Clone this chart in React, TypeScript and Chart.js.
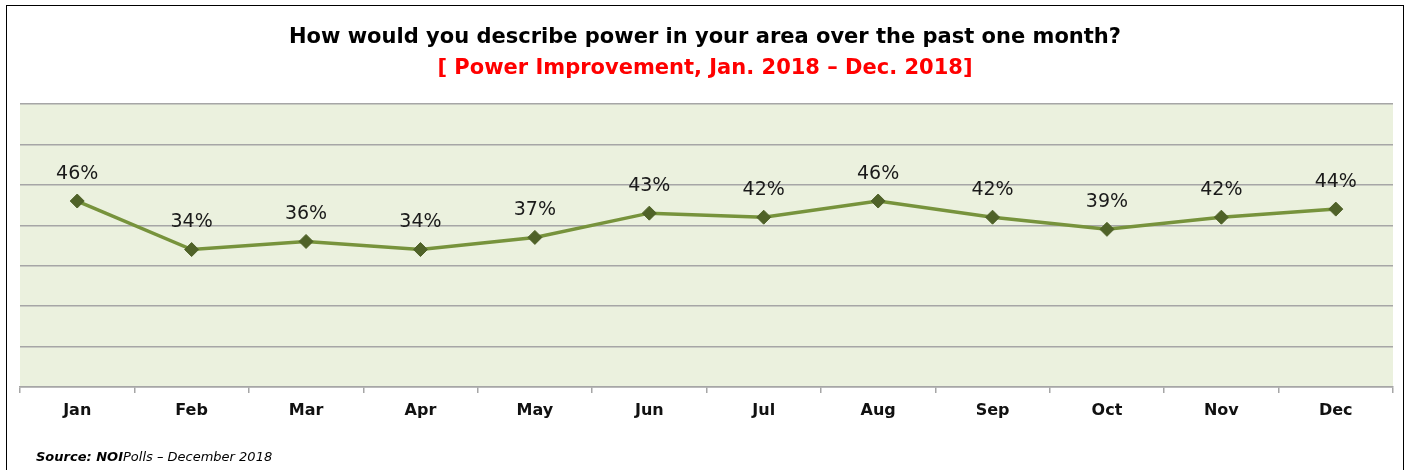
import React, { useEffect, useRef } from "react";
import { Chart, registerables } from "chart.js";

Chart.register(...registerables);

const months = ["Jan", "Feb", "Mar", "Apr", "May", "Jun", "Jul", "Aug", "Sep", "Oct", "Nov", "Dec"];
const improvement = [46, 34, 36, 34, 37, 43, 42, 46, 42, 39, 42, 44];
const titleText = "How would you describe power in your area over the past one month?";
const subtitleText = "[ Power Improvement, Jan. 2018 \u2013 Dec. 2018]";

const FONT = "'DejaVu Sans', Verdana, sans-serif";

const bgPlugin = {
  id: "plotBg",
  beforeDraw(chart: any) {
    const { ctx, chartArea } = chart;
    ctx.save();
    ctx.fillStyle = "#EBF1DE";
    ctx.fillRect(chartArea.left, chartArea.top, chartArea.right - chartArea.left, chartArea.bottom - chartArea.top);
    ctx.restore();
  },
};

const labelPlugin = {
  id: "pointLabels",
  afterDatasetsDraw(chart: any) {
    const { ctx } = chart;
    const meta = chart.getDatasetMeta(0);
    ctx.save();
    ctx.font = `19px ${FONT}`;
    ctx.fillStyle = "#1a1a1a";
    ctx.textAlign = "center";
    ctx.textBaseline = "middle";
    meta.data.forEach((pt: any, i: number) => {
      ctx.fillText(`${improvement[i]}%`, pt.x, pt.y - 27);
    });
    ctx.restore();
  },
};

export default function App() {
  const ref = useRef<HTMLCanvasElement>(null);
  useEffect(() => {
    if (!ref.current) return;
    const chart = new Chart(ref.current, {
      type: "line",
      data: {
        labels: months,
        datasets: [
          {
            data: improvement,
            borderColor: "#77933C",
            borderWidth: 3.5,
            pointStyle: "rectRot",
            pointRadius: 7,
            pointHoverRadius: 7,
            pointBackgroundColor: "#4F6228",
            pointBorderColor: "#4F6228",
            pointBorderWidth: 1,
            tension: 0,
          },
        ],
      },
      options: {
        animation: false,
        responsive: false,
        maintainAspectRatio: false,
        layout: { padding: { left: 20, right: 17, top: 104, bottom: 0 } },
        plugins: { legend: { display: false }, tooltip: { enabled: false } },
        scales: {
          x: {
            type: "category",
            offset: true,
            grid: {
              offset: true,
              drawOnChartArea: false,
              drawTicks: true,
              tickLength: 6,
              color: "#A6A6A6",
              lineWidth: 1.5,
            },
            border: { display: true, color: "#A6A6A6", width: 1.5 },
            ticks: {
              color: "#111",
              font: { family: FONT, size: 16, weight: "bold" },
              padding: 8,
              maxRotation: 0,
              autoSkip: false,
            },
            afterFit: (s: any) => {
              s.height = 83;
            },
          },
          y: {
            min: 0,
            max: 70,
            ticks: { stepSize: 10, display: false },
            grid: { color: "#A6A6A6", lineWidth: 1.5, drawTicks: false },
            border: { display: false },
            afterFit: (s: any) => {
              s.width = 0;
            },
          },
        },
      },
      plugins: [bgPlugin, labelPlugin],
    });
    return () => chart.destroy();
  }, []);

  return (
    <div
      style={{
        position: "fixed",
        left: 0,
        top: 0,
        width: 1410,
        height: 470,
        background: "#fff",
        overflow: "hidden",
        fontFamily: FONT,
      }}
    >
      <div
        style={{
          position: "absolute",
          left: 6,
          top: 5,
          width: 1396,
          height: 480,
          border: "1.5px solid #000",
        }}
      />
      <canvas ref={ref} width={1410} height={470} style={{ position: "absolute", left: 0, top: 0 }} />
      <div
        style={{
          position: "absolute",
          left: 0,
          width: 1410,
          top: 22,
          textAlign: "center",
          fontWeight: "bold",
          fontSize: 21,
          color: "#000",
          lineHeight: "28px",
        }}
      >
        {titleText}
      </div>
      <div
        style={{
          position: "absolute",
          left: 0,
          width: 1410,
          top: 52,
          textAlign: "center",
          fontWeight: "bold",
          fontSize: 21,
          color: "#FF0000",
          lineHeight: "30px",
        }}
      >
        {subtitleText}
      </div>
      <div
        style={{
          position: "absolute",
          left: 36,
          top: 448,
          fontSize: 13,
          fontStyle: "italic",
          color: "#000",
          lineHeight: "18px",
        }}
      >
        <b>Source: NOI</b>Polls {"\u2013"} December 2018
      </div>
    </div>
  );
}
